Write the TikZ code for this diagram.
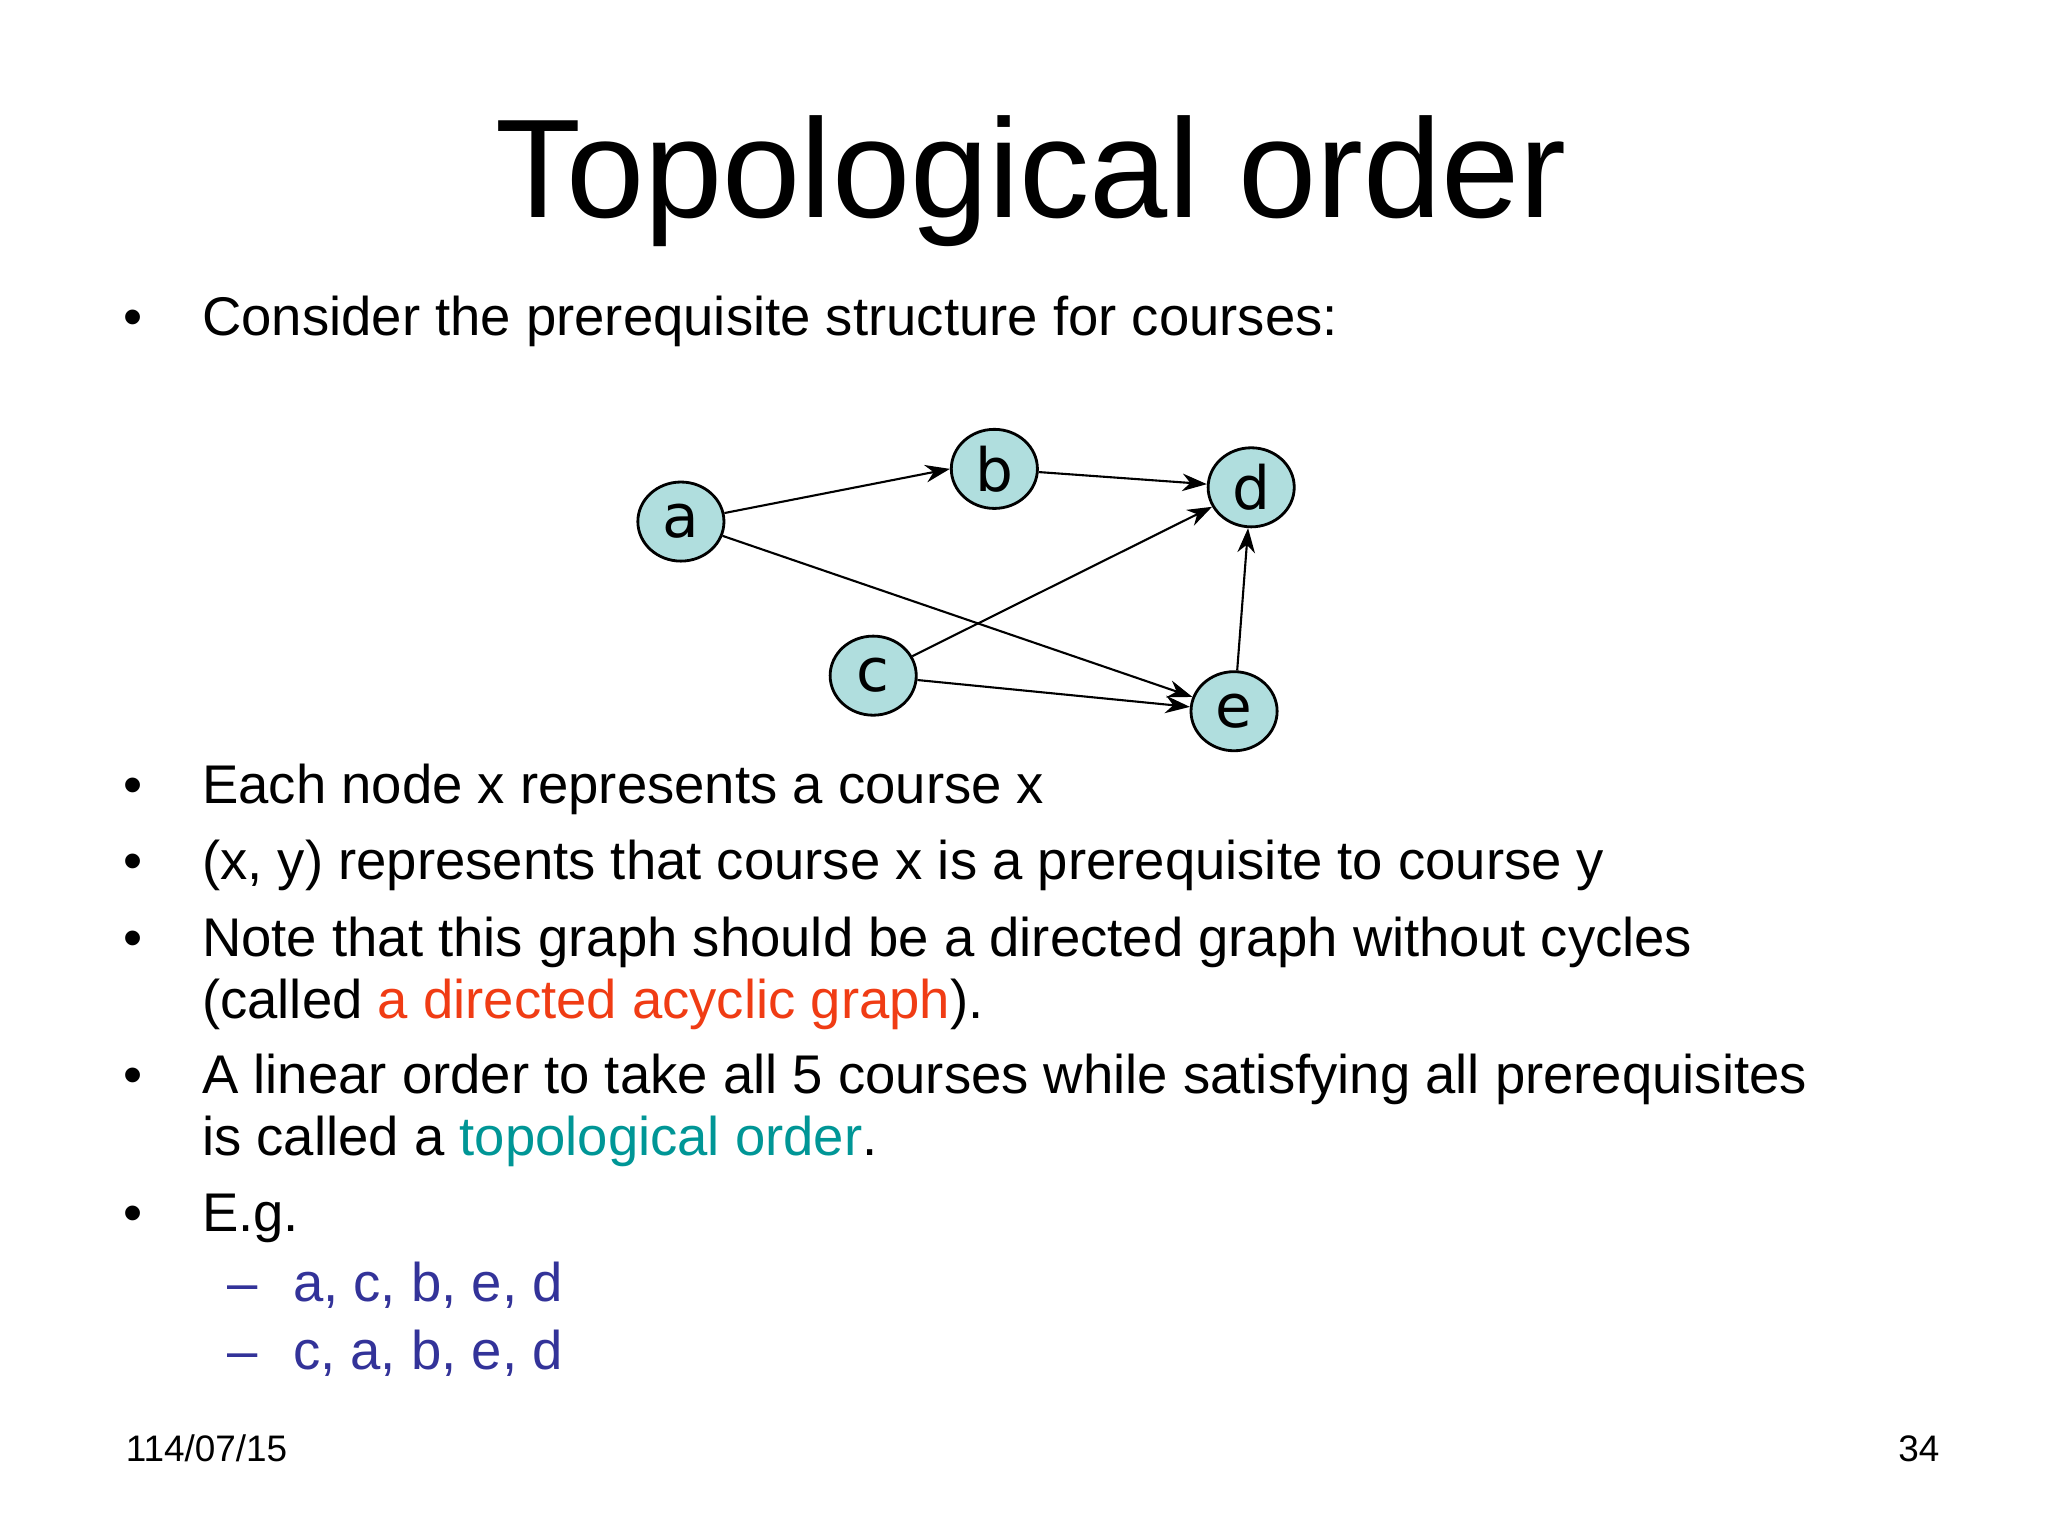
\documentclass[tikz,border=0pt]{standalone}
\usepackage{fontspec}
\setmainfont{Liberation Sans}
\newfontfamily\nodefont{DejaVu Sans}
\usetikzlibrary{arrows.meta}
\definecolor{redo}{RGB}{240,60,20}
\definecolor{tealo}{RGB}{0,150,150}
\definecolor{bluo}{RGB}{51,51,153}
\definecolor{nodefill}{RGB}{176,222,222}
\tikzset{
 vert/.style={ellipse,draw,thick,fill=nodefill,minimum width=24.5pt,minimum height=22.5pt,inner sep=0pt,font=\nodefont\fontsize{17}{17}\selectfont},
 txt/.style={anchor=base west,font=\fontsize{15.5}{18}\selectfont,inner sep=0pt},
 edge/.style={-{Stealth[length=7pt,width=5pt]},semithick}
}
\usetikzlibrary{shapes.geometric}
\begin{document}
\begin{tikzpicture}[x=0.01317cm,y=-0.01317cm]
\useasboundingbox[fill=white] (0,0) rectangle (1555,1166);
\node[anchor=base,font=\fontsize{40}{44}\selectfont,inner sep=0pt] (title) at (783,165) {Topological order};
\node[txt] (b1d) at (93,255) {•};
\node[txt] (b1) at (153,255) {Consider the prerequisite structure for courses:};
\node[vert] (a) at (517,396) {a};
\node[vert] (b) at (755,356) {b};
\node[vert] (d) at (950,370) {d};
\node[vert] (c) at (663,513) {c};
\node[vert] (e) at (937,540) {e};
\draw[edge] (a) -- (b.west);
\draw[edge] (b) -- (d);
\draw[edge] (c) -- (d);
\draw[edge] (a) -- (e);
\draw[edge] (c) -- (e);
\draw[edge] (e) -- (d);
\node[txt] (b2d) at (93,610) {•};
\node[txt] (b2) at (153,610) {Each node x represents a course x};
\node[txt] (b3d) at (93,668) {•};
\node[txt] (b3) at (153,668) {(x, y) represents that course x is a prerequisite to course y};
\node[txt] (b4d) at (93,726) {•};
\node[txt] (b4) at (153,726) {Note that this graph should be a directed graph without cycles};
\node[txt] (b4b) at (153,773) {(called \textcolor{redo}{a directed acyclic graph}).};
\node[txt] (b5d) at (93,830) {•};
\node[txt] (b5) at (153,830) {A linear order to take all 5 courses while satisfying all prerequisites};
\node[txt] (b5b) at (153,877) {is called a \textcolor{tealo}{topological order}.};
\node[txt] (b6d) at (93,935) {•};
\node[txt] (b6) at (153,935) {E.g.};
\node[txt,text=bluo] (s1d) at (172,988) {–};
\node[txt,text=bluo] (s1) at (222,988) {a, c, b, e, d};
\node[txt,text=bluo] (s2d) at (172,1040) {–};
\node[txt,text=bluo] (s2) at (222,1040) {c, a, b, e, d};
\node[anchor=base west,inner sep=0pt,font=\fontsize{10.5}{12}\selectfont] (date) at (95,1110) {114/07/15};
\node[anchor=base east,inner sep=0pt,font=\fontsize{10.5}{12}\selectfont] (pg) at (1473,1110) {34};
\end{tikzpicture}
\end{document}
